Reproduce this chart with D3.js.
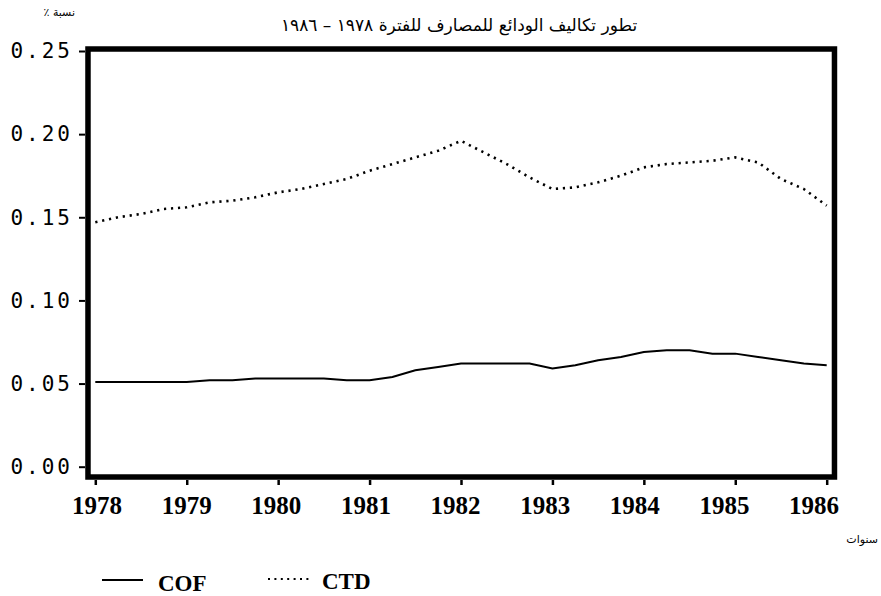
<!DOCTYPE html>
<html>
<head>
<meta charset="utf-8">
<script src="https://cdn.jsdelivr.net/npm/d3@7"></script>
<style>
  body { margin: 0; background: #fff; }
  svg { display: block; }
</style>
</head>
<body>
<svg id="chart" width="881" height="596"></svg>
<script>
// quarterly observations 1978 - 1986
const years = [
  1978.00, 1978.25, 1978.50, 1978.75, 1979.00, 1979.25, 1979.50, 1979.75,
  1980.00, 1980.25, 1980.50, 1980.75, 1981.00, 1981.25, 1981.50, 1981.75,
  1982.00, 1982.25, 1982.50, 1982.75, 1983.00, 1983.25, 1983.50, 1983.75,
  1984.00, 1984.25, 1984.50, 1984.75, 1985.00, 1985.25, 1985.50, 1985.75,
  1986.00
];
const cof = [
  0.051, 0.051, 0.051, 0.051, 0.051, 0.052, 0.052, 0.053,
  0.053, 0.053, 0.053, 0.052, 0.052, 0.054, 0.058, 0.060,
  0.062, 0.062, 0.062, 0.062, 0.059, 0.061, 0.064, 0.066,
  0.069, 0.070, 0.070, 0.068, 0.068, 0.066, 0.064, 0.062,
  0.061
];
const ctd = [
  0.147, 0.150, 0.152, 0.155, 0.156, 0.159, 0.160, 0.162,
  0.165, 0.167, 0.170, 0.173, 0.178, 0.182, 0.186, 0.190,
  0.196, 0.189, 0.182, 0.174, 0.167, 0.168, 0.171, 0.175,
  0.180, 0.182, 0.183, 0.184, 0.186, 0.183, 0.173, 0.167,
  0.157
];
const yTicks = [0, 0.05, 0.10, 0.15, 0.20, 0.25];
const xTicks = [1978, 1979, 1980, 1981, 1982, 1983, 1984, 1985, 1986];

const title = "تطور تكاليف الودائع للمصارف للفترة ١٩٧٨ – ١٩٨٦";
const yLabel = "٪ نسبة";
const xLabel = "سنوات";

const svg = d3.select("#chart");

// scales
const x = d3.scaleLinear().domain([1978, 1986]).range([95.3, 826.7]);
const xLab = d3.scaleLinear().domain([1978, 1986]).range([97, 814]);
const y = d3.scaleLinear().domain([0, 0.25]).range([466.7, 51]);

const frame = { left: x(1977.92), right: x(1986.085), top: y(0.2512), bottom: y(-0.0062) };

// title texts
svg.append("text")
  .attr("x", 459).attr("y", 31)
  .attr("text-anchor", "middle")
  .attr("direction", "rtl")
  .attr("font-family", "DejaVu Sans")
  .attr("font-size", 17)
  .text(title);

svg.append("text")
  .attr("x", 75).attr("y", 16)
  .attr("text-anchor", "end")
  .attr("font-family", "DejaVu Sans")
  .attr("font-size", 11)
  .text(yLabel);

svg.append("text")
  .attr("x", 878).attr("y", 543)
  .attr("text-anchor", "end")
  .attr("font-family", "DejaVu Sans")
  .attr("font-size", 11)
  .text(xLabel);

// y axis ticks + labels
svg.append("g")
  .attr("transform", `translate(${frame.left - 3}, 0)`)
  .call(d3.axisLeft(y).tickValues(yTicks).tickSize(6).tickPadding(6)
    .tickFormat(d3.format(".2f")))
  .call(g => g.select(".domain").remove())
  .call(g => g.selectAll("line").attr("stroke", "#000").attr("stroke-width", 2))
  .call(g => g.selectAll("text")
    .attr("font-family", "DejaVu Sans Mono")
    .attr("font-size", 21)
    .attr("letter-spacing", 3)
    .attr("fill", "#000"));

// x axis tick marks
svg.append("g")
  .attr("transform", `translate(0, ${frame.bottom + 3})`)
  .call(d3.axisBottom(x).tickValues(xTicks).tickSize(5).tickFormat(""))
  .call(g => g.select(".domain").remove())
  .call(g => g.selectAll("line").attr("stroke", "#000").attr("stroke-width", 2.5));

// x labels
svg.append("g")
  .selectAll("text")
  .data(xTicks)
  .join("text")
  .attr("x", d => xLab(d))
  .attr("y", 514)
  .attr("text-anchor", "middle")
  .attr("font-family", "Liberation Serif")
  .attr("font-weight", "bold")
  .attr("font-size", 25)
  .text(d => d);

// series
const cofData = years.map((t, i) => ({ t, v: cof[i] }));
const ctdData = years.map((t, i) => ({ t, v: ctd[i] }));

const line = d3.line().x(d => x(d.t)).y(d => y(d.v));

svg.append("path")
  .datum(cofData)
  .attr("fill", "none")
  .attr("stroke", "#000")
  .attr("stroke-width", 2)
  .attr("d", line);

svg.append("path")
  .datum(ctdData)
  .attr("fill", "none")
  .attr("stroke", "#000")
  .attr("stroke-width", 2.6)
  .attr("stroke-dasharray", "2.2,4.8")
  .attr("d", line);

// thick frame
svg.append("rect")
  .attr("x", frame.left)
  .attr("y", frame.top)
  .attr("width", frame.right - frame.left)
  .attr("height", frame.bottom - frame.top)
  .attr("fill", "none")
  .attr("stroke", "#000")
  .attr("stroke-width", 5.5);

// legend
const legend = svg.append("g").attr("font-family", "Liberation Serif")
  .attr("font-weight", "bold").attr("font-size", 23);

legend.append("line")
  .attr("x1", 102).attr("x2", 143).attr("y1", 580).attr("y2", 580)
  .attr("stroke", "#000").attr("stroke-width", 1.8);
legend.append("text").attr("x", 158).attr("y", 591).text("COF");

legend.append("line")
  .attr("x1", 268).attr("x2", 311).attr("y1", 579).attr("y2", 579)
  .attr("stroke", "#000").attr("stroke-width", 2.2)
  .attr("stroke-dasharray", "2,4.4");
legend.append("text").attr("x", 322).attr("y", 589).text("CTD");
</script>
</body>
</html>
